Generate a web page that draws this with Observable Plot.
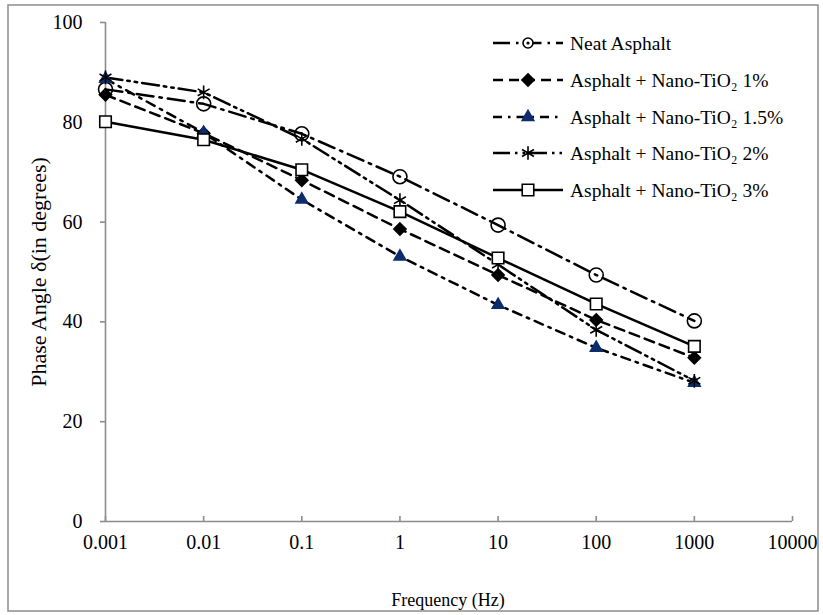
<!DOCTYPE html>
<html><head><meta charset="utf-8">
<script src="https://cdn.jsdelivr.net/npm/d3@7"></script>
<script src="https://cdn.jsdelivr.net/npm/@observablehq/plot@0.6"></script>
<style>body{margin:0;background:#fff}</style>
</head><body><div id="chart"></div>
<script>
// ---- data ----
const frequencies = [0.001, 0.01, 0.1, 1, 10, 100, 1000];
const neat   = [86.6, 83.7, 77.7, 69.1, 59.4, 49.4, 40.2];
const tio1   = [85.5, 77.8, 68.4, 58.6, 49.4, 40.4, 32.8];
const tio15  = [88.7, 77.9, 64.5, 53.1, 43.4, 34.8, 27.8];
const tio2   = [89.0, 86.0, 76.7, 64.4, 51.5, 38.4, 28.2];
const tio3   = [80.1, 76.5, 70.5, 62.1, 52.8, 43.6, 35.1];
const seriesNames = ["Neat Asphalt", "Asphalt + Nano-TiO\u2082 1%", "Asphalt + Nano-TiO\u2082 1.5%", "Asphalt + Nano-TiO\u2082 2%", "Asphalt + Nano-TiO\u2082 3%"];
const xTicks = [0.001, 0.01, 0.1, 1, 10, 100, 1000, 10000];
const xTickLabels = ["0.001", "0.01", "0.1", "1", "10", "100", "1000", "10000"];
const yTicks = [0, 20, 40, 60, 80, 100];

// ---- styles ----
const seriesValues = [neat, tio1, tio15, tio2, tio3];
const styles = [
  {dash: "17,6,2.5,6", symbol: "circle", fill: "none", stroke: "black", r: 7, dot: true},
  {dash: "10,6", symbol: "diamond2", fill: "black", stroke: "black", r: 5.5},
  {dash: "9,6,2.5,6", symbol: "triangle", fill: "#0c2c6c", stroke: "#0c2c6c", r: 4.3},
  {dash: "17,5,2.5,5,2.5,5", symbol: "asterisk", fill: "none", stroke: "black", r: 6.5},
  {dash: null, symbol: "square", fill: "white", stroke: "black", r: 6.5}
];

const rows = seriesNames.flatMap((name, k) => frequencies.map((f, i) => ({series: name, k, f, v: seriesValues[k][i]})));
const gray = "#8c8c8c";
const font = "'Liberation Serif', 'Times New Roman', serif";

const lineMarks = styles.map((s, k) => Plot.line(rows.filter(d => d.k === k), {
  x: "f", y: "v", stroke: "black", strokeWidth: 2.5, strokeDasharray: s.dash || undefined
}));
const dotMarks = styles.map((s, k) => Plot.dot(rows.filter(d => d.k === k), {
  x: "f", y: "v", symbol: s.symbol, r: s.r, fill: s.fill, stroke: s.stroke, strokeWidth: 1.6
}));

const fmt = d => xTickLabels[xTicks.indexOf(d)] ?? String(d);

const chart = Plot.plot({
  width: 823, height: 615,
  marginLeft: 105, marginRight: 31, marginTop: 22, marginBottom: 94,
  style: {fontFamily: font, fontSize: "20px", background: "white", color: "black"},
  x: {type: "log", domain: [0.001, 10000]},
  y: {domain: [0, 100]},
  marks: [
    Plot.ruleY([0], {stroke: gray, strokeWidth: 1.6}),
    Plot.ruleX([0.001], {stroke: gray, strokeWidth: 1.6}),
    Plot.ruleX(xTicks, {x: d => d, y1: 0, y2: 1, stroke: gray, strokeWidth: 1.6}),
    Plot.axisX({ticks: xTicks, tickFormat: fmt, tickSize: 0, tickPadding: 13, label: null, fill: "black"}),
    Plot.axisY({ticks: yTicks, tickSize: 5, tickPadding: 18, stroke: gray, strokeWidth: 1.6, label: null, fill: "black"}),
    ...lineMarks,
    ...dotMarks
  ]
});

const svg = d3.select(chart);
svg.selectAll('g[aria-label="x-axis tick label"], g[aria-label="y-axis tick label"]').attr("font-size", 20);
// outer border
svg.append("rect").attr("x", 8).attr("y", 5).attr("width", 810).attr("height", 606)
  .attr("fill", "none").attr("stroke", gray).attr("stroke-width", 1.5);
// axis titles
svg.append("text").attr("transform", "translate(38,272) rotate(-90)").attr("font-size", 22)
  .attr("text-anchor", "middle").attr("dy", "0.35em").attr("fill", "black").text("Phase Angle \u03b4(in degrees)");
svg.append("text").attr("x", 448).attr("y", 600).attr("font-size", 18)
  .attr("text-anchor", "middle").attr("dy", "0.35em").attr("fill", "black").text("Frequency (Hz)");

// legend
const legendY = [43, 80, 117, 153, 190];
const lg = svg.append("g");
const symMap = {circle: d3.symbolCircle, diamond2: d3.symbolDiamond2, triangle: d3.symbolTriangle, asterisk: d3.symbolAsterisk, square: d3.symbolSquare};
styles.forEach((s, k) => {
  const y = legendY[k];
  lg.append("line").attr("x1", 493).attr("x2", 563).attr("y1", y).attr("y2", y)
    .attr("stroke", "black").attr("stroke-width", 2.5)
    .attr("stroke-dasharray", s.dash);
  const rr = s.symbol === "circle" ? 5 : s.r;
  lg.append("path").attr("transform", `translate(528,${y})`)
    .attr("d", d3.symbol(symMap[s.symbol], Math.PI * rr * rr)())
    .attr("fill", s.symbol === "circle" ? "white" : s.fill).attr("stroke", s.stroke).attr("stroke-width", 1.6);
  if (s.dot) lg.append("circle").attr("cx", 528).attr("cy", y).attr("r", 1.6).attr("fill", "black");
  lg.append("text").attr("x", 570).attr("y", y).attr("dy", "0.35em").attr("text-anchor", "start").attr("font-size", 19.5)
    .attr("fill", "black").text(seriesNames[k]);
});

document.getElementById("chart").appendChild(chart);
</script>
</body></html>
